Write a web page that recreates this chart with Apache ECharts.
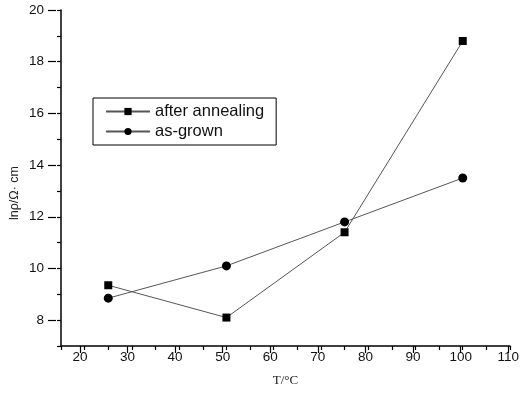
<!DOCTYPE html>
<html><head><meta charset="utf-8">
<script src="https://cdn.jsdelivr.net/npm/echarts@6/dist/echarts.min.js"></script>
<style>html,body{margin:0;padding:0;background:#fff}#c{width:522px;height:401px}</style>
</head><body><div id="c"></div>
<script>
const temps = [25, 50, 75, 100];
const afterAnnealing = [9.35, 8.1, 11.4, 18.8];
const asGrown = [8.85, 10.1, 11.8, 13.5];
const seriesNames = ['after annealing', 'as-grown'];
const xName = 'T/°C';
const yName = 'lnρ/Ω· cm';

const L = 56, W = 454, T = 10, H = 336;
const xUnit = W / 95, yUnit = H / 13;
const chart = echarts.init(document.getElementById('c'));
const lab = {color: '#111', fontSize: 13.5, fontFamily: 'Liberation Sans, Arial'};
chart.setOption({
  animation: false,
  grid: [
    {left: L, top: T, width: W, height: H},
    {left: L + 5 * xUnit, top: T, width: W - 5 * xUnit, height: H - yUnit}
  ],
  legend: {
    left: 93, top: 98, orient: 'vertical', borderColor: '#000', borderWidth: 1,
    padding: [5, 12, 5, 12], itemGap: 3, itemWidth: 44, itemHeight: 9,
    textStyle: {fontSize: 16.5, color: '#111', fontFamily: 'Liberation Sans, Arial'},
    data: seriesNames
  },
  xAxis: [
    {gridIndex: 0, type: 'value', min: 15, max: 110, interval: 5,
     axisLine: {lineStyle: {color: '#000', width: 1.5}},
     axisTick: {length: 4, lineStyle: {color: '#000', width: 1.2}},
     axisLabel: {show: false}, splitLine: {show: false},
     name: xName, nameLocation: 'middle', nameGap: 28,
     nameTextStyle: {fontSize: 13, color: '#222', fontFamily: 'Liberation Serif, Times New Roman'}},
    {gridIndex: 1, type: 'value', min: 20, max: 110, interval: 10, offset: yUnit,
     axisLine: {show: false},
     axisTick: {length: 7, lineStyle: {color: '#000', width: 1.2}},
     axisLabel: Object.assign({margin: 4}, lab), splitLine: {show: false}}
  ],
  yAxis: [
    {gridIndex: 0, type: 'value', min: 7, max: 20, interval: 1,
     axisLine: {show: true, lineStyle: {color: '#000', width: 1.5}},
     axisTick: {show: true, length: 4, lineStyle: {color: '#000', width: 1.2}},
     axisLabel: {show: false}, splitLine: {show: false},
     name: yName, nameLocation: 'middle', nameGap: 40, nameRotate: 90,
     nameTextStyle: {fontSize: 12.5, color: '#222', fontFamily: 'Liberation Sans, Arial', padding: [0, 30, 0, 0]}},
    {gridIndex: 1, type: 'value', min: 8, max: 20, interval: 2, offset: 5 * xUnit,
     axisLine: {show: false},
     axisTick: {show: true, length: 8, lineStyle: {color: '#000', width: 1.2}},
     axisLabel: Object.assign({margin: 12}, lab), splitLine: {show: false}}
  ],
  series: [
    {name: seriesNames[0], type: 'line', xAxisIndex: 0, yAxisIndex: 0,
     data: temps.map((t, i) => [t, afterAnnealing[i]]),
     symbol: 'rect', symbolSize: 8, itemStyle: {color: '#000'},
     lineStyle: {color: '#555', width: 1}},
    {name: seriesNames[1], type: 'line', xAxisIndex: 0, yAxisIndex: 0,
     data: temps.map((t, i) => [t, asGrown[i]]),
     symbol: 'circle', symbolSize: 9, itemStyle: {color: '#000'},
     lineStyle: {color: '#555', width: 1}}
  ]
});
</script></body></html>
